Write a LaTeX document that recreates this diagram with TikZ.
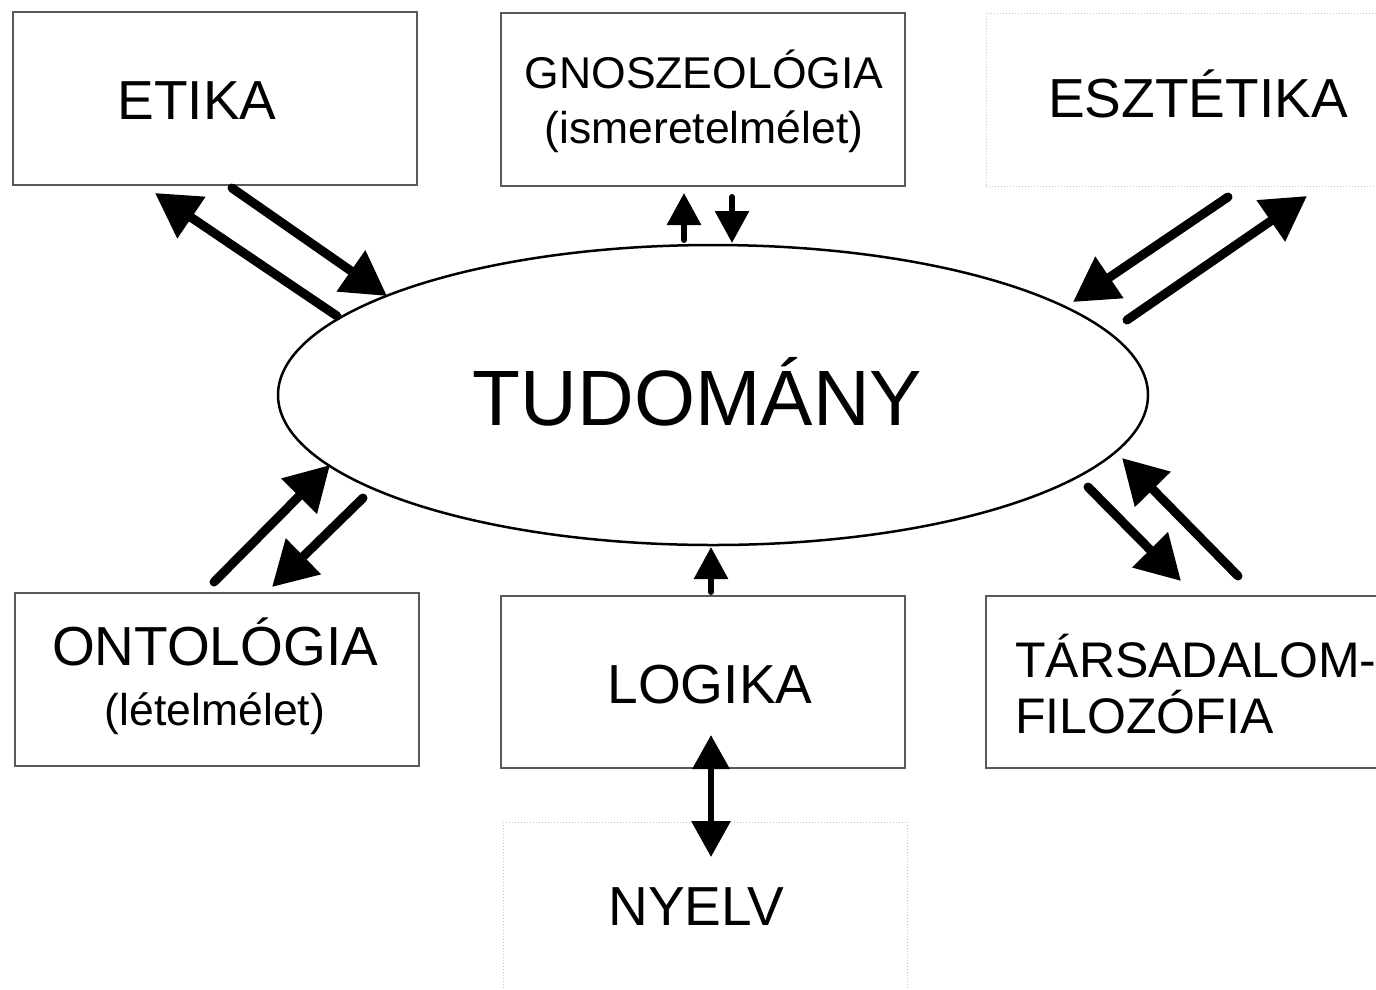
\documentclass[tikz,border=0pt]{standalone}
\usepackage{fontspec}
\setmainfont{Liberation Sans}
\usetikzlibrary{shapes.geometric,arrows.meta}

\newcommand{\bigfont}{\fontsize{55}{60}\selectfont}
\newcommand{\midfont}{\fontsize{44.5}{55}\selectfont}

\tikzset{
  box/.style={draw=gray!70!black, line width=1.5pt, minimum width=404pt, minimum height=173pt, inner sep=0pt},
  dotbox/.style={draw=gray!45, line width=1pt, dotted, minimum width=404pt, minimum height=173pt, inner sep=0pt},
  lbl/.style={anchor=base, inner sep=0pt},
  bigarrow/.style={line width=9pt, line cap=round, -{Triangle[length=44pt,width=48pt]}},
  smallarrow/.style={line width=6pt, line cap=round, -{Triangle[length=32pt,width=33pt]}},
  duoarrow/.style={line width=6.5pt, {Triangle[length=34pt,width=36pt]}-{Triangle[length=36pt,width=38pt]}}
}

\begin{document}
\begin{tikzpicture}[x=1pt,y=-1pt]
        \useasboundingbox (0,0) rectangle (1376,989);

        % Draw the boxes
        \node[box] (etika) at (215,98.5) {};
        \node[box] (gnosz) at (703,99.5) {};
        \node[dotbox] (esztetika) at (1188,99.5) {};
        \node[box] (ontologia) at (217,679.5) {};
        \node[box, minimum height=172pt] (logika) at (703,682) {};
        \node[box, minimum height=172pt] (tarsfil) at (1188,682) {};
        \node[dotbox] (nyelv) at (705.5,908.5) {};

        % Draw the central ellipse
        \node[ellipse, draw, line width=2.5pt, minimum width=870pt, minimum height=300pt] (tudomany) at (713,395) {};

        % Label the boxes (multi-line labels sit on their last baseline)
        \node[lbl, font=\bigfont] (etika-t) at (197,119) {ETIKA};
        \node[lbl, font=\midfont, align=center] (gnosz-t) at (704,143) {GNOSZEOLÓGIA\\(ismeretelmélet)};
        \node[lbl, font=\bigfont] (esztetika-t) at (1198,117) {ESZTÉTIKA};
        \node[lbl, font=\fontsize{78.5}{90}\selectfont] (tudomany-t) at (697.5,425) {TUDOMÁNY};
        \node[lbl, font=\bigfont, align=center] (ontologia-t) at (215,725) {ONTOLÓGIA\\{\fontsize{44.5}{60}\selectfont(lételmélet)}};
        \node[lbl, font=\bigfont] (logika-t) at (710,703) {LOGIKA};
        \node[lbl, anchor=base west, font=\fontsize{50}{56}\selectfont, align=left] (tarsfil-t) at (1015,733) {TÁRSADALOM-\\FILOZÓFIA};
        \node[lbl, font=\bigfont] (nyelv-t) at (696.5,925) {NYELV};

        % Arrow end points
        \coordinate (etika-a) at (337,316);  \coordinate (etika-b) at (155,193);
        \coordinate (etika-c) at (232,188);  \coordinate (etika-d) at (387,296);
        \coordinate (gnosz-a) at (684,240);  \coordinate (gnosz-b) at (684,193);
        \coordinate (gnosz-c) at (732,197);  \coordinate (gnosz-d) at (732,243);
        \coordinate (esztetika-a) at (1228,197); \coordinate (esztetika-b) at (1073,302);
        \coordinate (esztetika-c) at (1127,320); \coordinate (esztetika-d) at (1307,196);
        \coordinate (ontologia-a) at (214,582);  \coordinate (ontologia-b) at (330,465);
        \coordinate (ontologia-c) at (363,498);  \coordinate (ontologia-d) at (272,587);
        \coordinate (logika-a) at (711,592);     \coordinate (logika-b) at (711,547);
        \coordinate (tarsfil-a) at (1088,487);   \coordinate (tarsfil-b) at (1181,581);
        \coordinate (tarsfil-c) at (1238,576);   \coordinate (tarsfil-d) at (1122,458);
        \coordinate (nyelv-a) at (711,735);      \coordinate (nyelv-b) at (711,857);

        % Draw the arrows
        \draw[bigarrow] (etika-a) -- (etika-b);
        \draw[bigarrow] (etika-c) -- (etika-d);
        \draw[smallarrow] (gnosz-a) -- (gnosz-b);
        \draw[smallarrow] (gnosz-c) -- (gnosz-d);
        \draw[bigarrow] (esztetika-a) -- (esztetika-b);
        \draw[bigarrow] (esztetika-c) -- (esztetika-d);
        \draw[bigarrow] (ontologia-a) -- (ontologia-b);
        \draw[bigarrow] (ontologia-c) -- (ontologia-d);
        \draw[smallarrow] (logika-a) -- (logika-b);
        \draw[bigarrow] (tarsfil-a) -- (tarsfil-b);
        \draw[bigarrow] (tarsfil-c) -- (tarsfil-d);
        \draw[duoarrow] (nyelv-a) -- (nyelv-b);
    \end{tikzpicture}
\end{document}
